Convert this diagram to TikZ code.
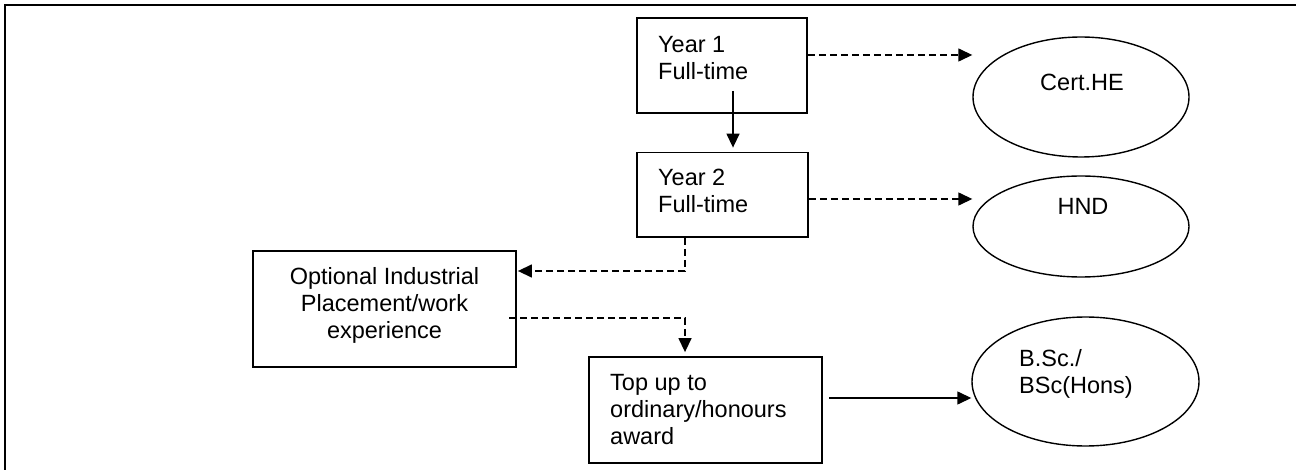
\documentclass[tikz,border=0pt]{standalone}
\usepackage{fontspec}
\setmainfont{Liberation Sans}
\usetikzlibrary{arrows.meta,shapes.geometric}
\begin{document}
\begin{tikzpicture}[x=1pt,y=-1pt,
  boxnode/.style={draw, line width=1.8pt, inner sep=0pt},
  ovalnode/.style={draw, ellipse, line width=1.4pt, inner sep=0pt},
  txt/.style={inner sep=0pt, font=\fontsize{23.5}{27}\selectfont},
  solidarrow/.style={line width=1.4pt, -{Triangle[length=14pt,width=13pt]}},
  dasharrow/.style={solidarrow, dash pattern=on 7pt off 4pt}
]
\useasboundingbox (0,0) rectangle (1296,470);
\fill[white] (0,0) rectangle (1296,470);
% frame
\draw[line width=2.3pt] (5,470) -- (5,5) -- (1296,5);

% boxes
\node[boxnode, minimum width=170pt, minimum height=95pt] (y1) at (722,65.5) {};
\node[boxnode, minimum width=171pt, minimum height=84.5pt] (y2) at (722.5,194.75) {};
\node[boxnode, minimum width=263pt, minimum height=116pt] (opt) at (384.5,309) {};
\node[boxnode, minimum width=233pt, minimum height=106pt] (top) at (705.5,410) {};

% ellipses
\node[ovalnode, minimum width=216pt, minimum height=120pt] (cert) at (1081,97) {};
\node[ovalnode, minimum width=216pt, minimum height=101pt] (hnd) at (1081,226.5) {};
\node[ovalnode, minimum width=227pt, minimum height=129pt] (bsc) at (1085.5,381.5) {};

% texts
\node[txt, anchor=west, align=left] (y1t) at (658,58) {Year 1\\Full-time};
\node[txt, anchor=west, align=left] (y2t) at (658,191) {Year 2\\Full-time};
\node[txt, align=center] (optt) at (384.5,305) {Optional Industrial\\Placement/work\\experience};
\node[txt, anchor=west, align=left] (topt) at (610,410) {Top up to\\ordinary/honours\\award};
\node[txt] (certt) at (1082,82) {Cert.HE};
\node[txt] (hndt) at (1083,206) {HND};
\node[txt, anchor=west, align=left] (bsct) at (1019,374) {B.Sc./\\BSc(Hons)};

% connector helper coordinates
\coordinate (a1) at (733,91);
\coordinate (r1) at (0,55);
\coordinate (r2) at (0,199);
\coordinate (d2) at (685,271);
\coordinate (o1) at (509,318);
\coordinate (d3) at (685,318);
\coordinate (t1) at (829,398);

% connectors
\draw[solidarrow, shorten >=4pt] (a1) -- (a1 |- y2.north);
\draw[dasharrow] (r1 -| y1.east) -- (r1 -| cert.west);
\draw[dasharrow] (r2 -| y2.east) -- (r2 -| hnd.west);
\draw[dasharrow, shorten >=1pt] (d2 |- y2.south) |- (d2 -| opt.east);
\draw[dasharrow, shorten >=4pt] (o1) -- (d3) -- (d3 |- top.north);
\draw[solidarrow] (t1) -- (t1 -| bsc.west);
\end{tikzpicture}
\end{document}
